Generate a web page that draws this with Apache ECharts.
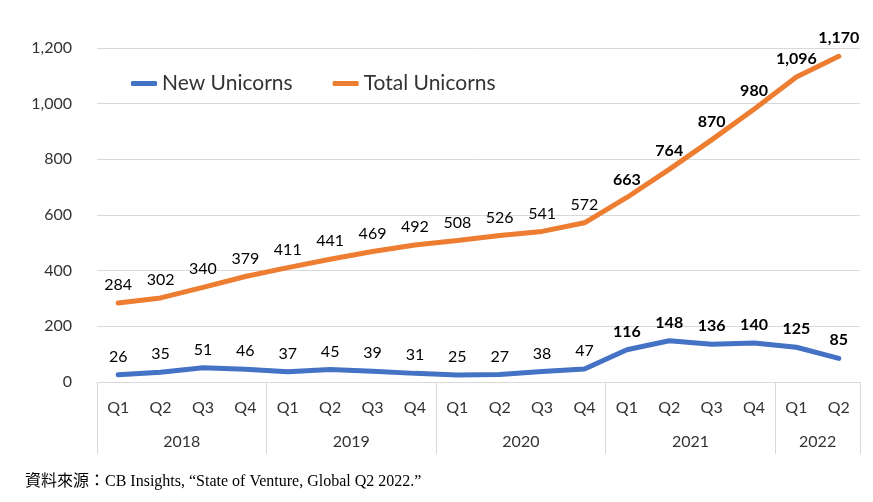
<!DOCTYPE html>
<html>
<head>
<meta charset="utf-8">
<script src="https://cdn.jsdelivr.net/npm/echarts@6/dist/echarts.min.js"></script>
<style>
html,body{margin:0;padding:0;background:#fff;}
#chart{width:873px;height:502px;}
</style>
</head>
<body>
<div id="chart"></div>
<script>
var quarters = ['Q1','Q2','Q3','Q4','Q1','Q2','Q3','Q4','Q1','Q2','Q3','Q4','Q1','Q2','Q3','Q4','Q1','Q2'];
var years = ['2018','2019','2020','2021','2022'];
var quartersPerYear = [4,4,4,4,2];
var newUnicorns = [26,35,51,46,37,45,39,31,25,27,38,47,116,148,136,140,125,85];
var totalUnicorns = [284,302,340,379,411,441,469,492,508,526,541,572,663,764,870,980,1096,1170];
var boldFrom = 12; // 2021起標籤加粗
var yTicks = [0,200,400,600,800,1000,1200];

var font = 'Lato, "Noto Sans", sans-serif';

// 年份軸：19 個點，年份放在每組中間，刻度放在每組邊界
var yearPoints = [];
var yearEdges = [0];
for (var i = 0; i <= quarters.length; i++) yearPoints.push('');
var pos = 0;
for (var j = 0; j < years.length; j++) {
	var n = quartersPerYear[j];
	yearPoints[pos + n / 2] = years[j];
	pos += n;
	yearEdges.push(pos);
}

function fmt(v) {
	return String(v).replace(/\B(?=(\d{3})+(?!\d))/g, ',');
}

function makeData(arr) {
	return arr.map(function (v, idx) {
		return {
			value: v,
			label: { fontWeight: idx >= boldFrom ? 'bold' : 'normal' }
		};
	});
}

var myChart = echarts.init(document.getElementById('chart'));
var option = {
	animation: false,
	title: {
		text: '資料來源：CB Insights, “State of Venture, Global Q2 2022.”',
		left: 20,
		top: 469,
		textStyle: {
			fontFamily: '"Liberation Serif", "Noto Sans CJK TC", serif',
			fontWeight: 'normal',
			fontSize: 16,
			color: '#000'
		}
	},
	legend: {
		left: 126,
		top: 68,
		itemGap: 40,
		itemWidth: 26,
		itemHeight: 5,
		icon: 'roundRect',
		textStyle: { fontFamily: font, fontSize: 21, color: '#333' },
		data: ['New Unicorns', 'Total Unicorns']
	},
	grid: { left: 97, right: 13, top: 48, bottom: 120 },
	xAxis: [{
		type: 'category',
		data: quarters,
		axisLine: { lineStyle: { color: '#d9d9d9' } },
		axisTick: { show: false },
		axisLabel: { interval: 0, margin: 18, fontFamily: font, fontSize: 16, color: '#333' }
	}, {
		type: 'category',
		position: 'bottom',
		boundaryGap: false,
		data: yearPoints,
		axisLine: { show: false },
		axisTick: {
			show: true,
			length: 72,
			interval: function (idx) { return yearEdges.indexOf(idx) >= 0; },
			lineStyle: { color: '#d9d9d9' }
		},
		axisLabel: { interval: 0, margin: 52, fontFamily: font, fontSize: 16, color: '#333' }
	}],
	yAxis: {
		type: 'value',
		min: yTicks[0],
		max: yTicks[yTicks.length - 1],
		interval: 200,
		axisLine: { show: false },
		axisTick: { show: false },
		splitLine: { lineStyle: { color: '#d9d9d9' } },
		axisLabel: { margin: 25, fontFamily: font, fontSize: 16, color: '#333', formatter: fmt }
	},
	series: [{
		name: 'New Unicorns',
		type: 'line',
		data: makeData(newUnicorns),
		symbol: 'circle',
		symbolSize: 0.1,
		showSymbol: true,
		itemStyle: { color: '#4472C4' },
		lineStyle: { width: 5, color: '#4472C4', cap: 'round' },
		label: {
			show: true, position: 'top', distance: 10,
			fontFamily: font, fontSize: 16, color: '#000', formatter: function (p) { return fmt(p.value); }
		}
	}, {
		name: 'Total Unicorns',
		type: 'line',
		data: makeData(totalUnicorns),
		symbol: 'circle',
		symbolSize: 0.1,
		showSymbol: true,
		itemStyle: { color: '#ED7D31' },
		lineStyle: { width: 5, color: '#ED7D31', cap: 'round' },
		label: {
			show: true, position: 'top', distance: 10,
			fontFamily: font, fontSize: 16, color: '#000', formatter: function (p) { return fmt(p.value); }
		}
	}]
};
myChart.setOption(option);
</script>
</body>
</html>
